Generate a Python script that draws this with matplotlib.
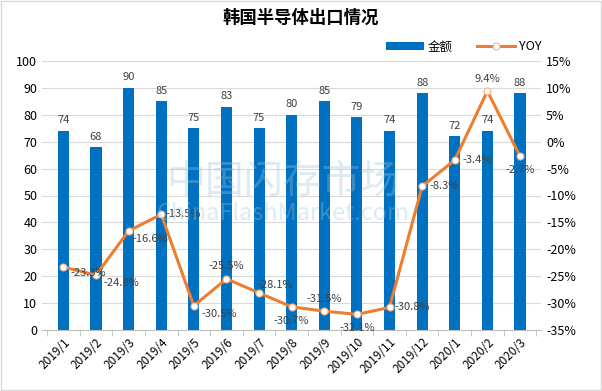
import numpy as np
import matplotlib.pyplot as plt
import matplotlib.patches as patches

plt.rcParams['font.family'] = ['Noto Sans CJK SC', 'DejaVu Sans']

months = ["2019/1", "2019/2", "2019/3", "2019/4", "2019/5", "2019/6", "2019/7", "2019/8",
          "2019/9", "2019/10", "2019/11", "2019/12", "2020/1", "2020/2", "2020/3"]
amount = [74, 68, 90, 85, 75, 83, 75, 80, 85, 79, 74, 88, 72, 74, 88]
yoy = [-23.3, -24.8, -16.6, -13.5, -30.5, -25.5, -28.1, -30.7, -31.5, -32.1, -30.8, -8.3, -3.4, 9.4, -2.7]
# label offsets in points (dx, dy)
yoy_off = [(18, -4), (18, -6), (16, -6), (16, 0), (18, -6), (0, 9), (12, 6), (0, -10),
           (0, 9), (0, -10), (16, 0), (16, 0), (16, 0), (0, 9), (0, -10)]

bar_c = "#0070C0"
line_c = "#ED7D31"

fig = plt.figure(figsize=(6.02, 3.91), dpi=100)
fig.patches.append(patches.Rectangle((0.002, 0.003), 0.996, 0.994, transform=fig.transFigure,
                                     fill=False, edgecolor="#D9D9D9", lw=1))
ax = fig.add_axes([0.07, 0.156, 0.829, 0.688])
ax2 = ax.twinx()

x = np.arange(len(months))
bars = ax.bar(x, amount, width=0.34, color=bar_c, label="金额", zorder=2)
for xi, v in zip(x, amount):
    ax.annotate(str(v), (xi, v), xytext=(0, 4), textcoords="offset points",
                ha="center", va="bottom", fontsize=8, color="#404040")

ax.set_ylim(0, 100)
ax.set_yticks(range(0, 101, 10))
ax.set_xlim(-0.65, len(months) - 0.35)
ax.grid(axis="y", color="#D9D9D9", lw=0.8, zorder=0)
ax.set_axisbelow(True)
ax.set_xticks(x)
ax.set_xticklabels(months, rotation=45, ha="right", rotation_mode="anchor", fontsize=8.5)
ax.set_xticks(np.arange(-0.5, len(months)), minor=True)
ax.tick_params(axis="x", which="major", length=0, pad=4)
ax.tick_params(axis="x", which="minor", length=4, color="#BFBFBF")
ax.tick_params(axis="y", length=0, labelsize=9)
for s in ["top", "right", "left"]:
    ax.spines[s].set_visible(False)
ax.spines["bottom"].set_color("#BFBFBF")

line, = ax2.plot(x, yoy, color=line_c, lw=2.2, marker="o", markersize=5,
                 markerfacecolor="white", markeredgecolor="#F4B183", markeredgewidth=0.8,
                 label="YOY", zorder=3)
for xi, v, (dx, dy) in zip(x, yoy, yoy_off):
    ax2.annotate(f"{v:.1f}%", (xi, v), xytext=(dx, dy), textcoords="offset points",
                 ha="center", va="center", fontsize=8, color="#404040")
ax2.set_ylim(-35, 15)
ax2.set_yticks(range(-35, 16, 5))
ax2.set_yticklabels([f"{t}%" for t in range(-35, 16, 5)])
ax2.tick_params(axis="y", length=0, labelsize=9)
for s in ax2.spines.values():
    s.set_visible(False)

fig.text(0.5, 0.955, "韩国半导体出口情况", ha="center", va="center", fontsize=12.5, fontweight="bold")
fig.text(0.47, 0.535, "中国闪存市场", ha="center", va="center", fontsize=28, color="#9CC3DA", alpha=0.35)
fig.text(0.47, 0.455, "ChinaFlashMarket.com", ha="center", va="center", fontsize=17, color="#9CC3DA",
         alpha=0.35, style="italic")

fig.legend(handles=[bars, line], loc="center", bbox_to_anchor=(0.77, 0.88), ncol=2,
           frameon=False, fontsize=9, handlelength=3, columnspacing=2, handletextpad=0.3)

fig.savefig("out.png", dpi=100)
